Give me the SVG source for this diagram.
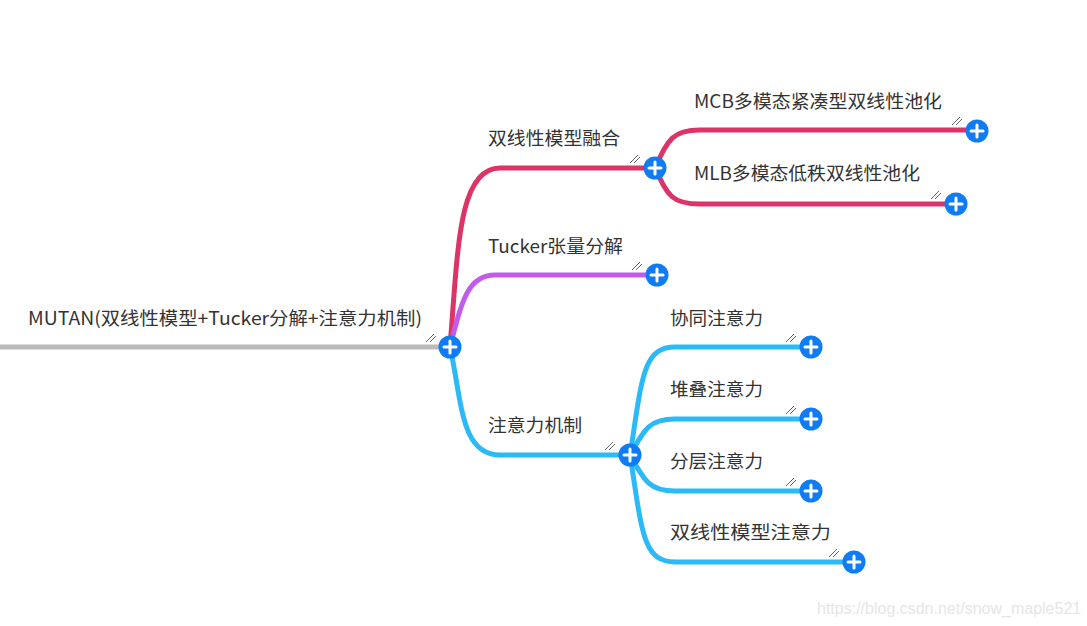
<svg xmlns="http://www.w3.org/2000/svg" width="1087" height="626" viewBox="0 0 1087 626">
<style>
.t{font-family:"Noto Sans CJK SC","Noto Sans",sans-serif;font-size:18px;fill:#333}
.wm{font-family:"Liberation Sans",Arial,sans-serif;font-size:16px;fill:#e6e6e6}
.ln{fill:none;stroke-width:5;stroke-linecap:round}
.red{stroke:#dc3467}
.pur{stroke:#c15beb}
.blu{stroke:#2bb9f7}
.gry{stroke:#bbbbbb}
.hash{stroke:#555;stroke-width:0.9;fill:none}
.btn{fill:#0f7cf5}
.plus{stroke:#fff;stroke-width:3;stroke-linecap:round}
</style>
<defs>
<g id="plus"><circle r="11.5" class="btn"/><path class="plus" d="M-6,0H6M0,-6V6"/></g>
<path id="hh" class="hash" d="M-8,0L0,-8M-4,0L2,-6"/>
</defs>
<rect width="1087" height="626" fill="#fff"/>
<g id="connectors">
<path class="ln gry" d="M0,347H440"/>
<path class="ln red" d="M450,347C458,250 458,168 500,168H645"/>
<path class="ln pur" d="M450,347C462,300 468,275 495,275H647"/>
<path class="ln blu" d="M450,347C462,400 460,455 500,455H620"/>
<path class="ln red" d="M655,168C668,140 672,130 700,130H967"/>
<path class="ln red" d="M655,168C668,196 672,204 700,204H946"/>
<path class="ln blu" d="M630,455C642,380 642,347 675,347H801"/>
<path class="ln blu" d="M630,455C645,428 650,419 675,419H801"/>
<path class="ln blu" d="M630,455C645,482 650,491 675,491H801"/>
<path class="ln blu" d="M630,455C642,530 642,562 675,562H844"/>
</g>
<g id="root">
<text class="t" x="28" y="325" textLength="394" lengthAdjust="spacingAndGlyphs">MUTAN(双线性模型+Tucker分解+注意力机制)</text>
<use href="#hh" x="434" y="342"/>
<use href="#plus" x="450" y="347"/>
</g>
<g id="n1">
<text class="t" x="488" y="145" textLength="132" lengthAdjust="spacingAndGlyphs">双线性模型融合</text>
<use href="#hh" x="638" y="163"/>
<use href="#plus" x="655" y="168"/>
</g>
<g id="n2">
<text class="t" x="488" y="253" textLength="135" lengthAdjust="spacingAndGlyphs">Tucker张量分解</text>
<use href="#hh" x="640" y="270"/>
<use href="#plus" x="657" y="275"/>
</g>
<g id="n3">
<text class="t" x="488" y="432" textLength="94" lengthAdjust="spacingAndGlyphs">注意力机制</text>
<use href="#hh" x="613" y="450"/>
<use href="#plus" x="630" y="455"/>
</g>
<g id="n11">
<text class="t" x="694" y="108" textLength="248" lengthAdjust="spacingAndGlyphs">MCB多模态紧凑型双线性池化</text>
<use href="#hh" x="960" y="125"/>
<use href="#plus" x="977" y="131"/>
</g>
<g id="n12">
<text class="t" x="694" y="180" textLength="226" lengthAdjust="spacingAndGlyphs">MLB多模态低秩双线性池化</text>
<use href="#hh" x="939" y="199"/>
<use href="#plus" x="956" y="204"/>
</g>
<g id="n31">
<text class="t" x="670" y="325" textLength="93" lengthAdjust="spacingAndGlyphs">协同注意力</text>
<use href="#hh" x="794" y="342"/>
<use href="#plus" x="811" y="347"/>
</g>
<g id="n32">
<text class="t" x="670" y="396" textLength="93" lengthAdjust="spacingAndGlyphs">堆叠注意力</text>
<use href="#hh" x="794" y="414"/>
<use href="#plus" x="811" y="419"/>
</g>
<g id="n33">
<text class="t" x="670" y="468" textLength="93" lengthAdjust="spacingAndGlyphs">分层注意力</text>
<use href="#hh" x="794" y="486"/>
<use href="#plus" x="811" y="491"/>
</g>
<g id="n34">
<text class="t" x="670" y="539" textLength="161" lengthAdjust="spacingAndGlyphs">双线性模型注意力</text>
<use href="#hh" x="837" y="557"/>
<use href="#plus" x="854" y="562"/>
</g>
<text class="wm" x="817" y="614">https://blog.csdn.net/snow_maple521</text>
</svg>
